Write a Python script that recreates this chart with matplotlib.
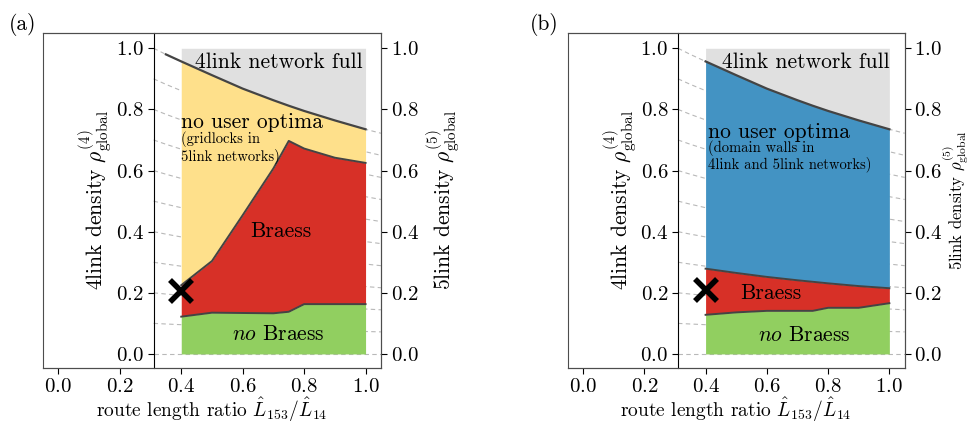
import numpy as np
import matplotlib
matplotlib.use("Agg")
import matplotlib.pyplot as plt

plt.rcParams['font.family'] = ['cmr10']
plt.rcParams['mathtext.fontset'] = 'cm'
plt.rcParams['axes.unicode_minus'] = False
plt.rcParams['axes.formatter.use_mathtext'] = True

# 4link network full boundary (also used for the 4link->5link guide lines)
x_full = [0.31, 0.35, 0.4, 0.5, 0.6, 0.7, 0.75, 0.8, 0.9, 1.0, 1.05]
rho_full = [1.0, 0.98, 0.957, 0.912, 0.868, 0.830, 0.812, 0.795, 0.764, 0.735, 0.722]

# common x grid of the phase regions
x_reg = [0.4, 0.5, 0.6, 0.7, 0.75, 0.8, 0.9, 1.0]
full_reg = [0.957, 0.912, 0.868, 0.830, 0.812, 0.795, 0.764, 0.735]

# panel (a)
braess_top_a = [0.225, 0.304, 0.454, 0.607, 0.697, 0.672, 0.642, 0.625]
nobraess_top_a = [0.122, 0.135, 0.134, 0.133, 0.138, 0.163, 0.163, 0.163]

# panel (b)
braess_top_b = [0.279, 0.265, 0.252, 0.241, 0.236, 0.231, 0.222, 0.215]
nobraess_top_b = [0.128, 0.136, 0.141, 0.141, 0.141, 0.151, 0.151, 0.166]

marker_a = (0.4, 0.205)
marker_b = (0.4, 0.209)

GRAY = '#e0e0e0'
YELLOW = '#fee08b'
RED = '#d73027'
GREEN = '#91cf60'
BLUE = '#4393c3'
LINE = '#444444'
FS = 15.5
TICK_FS = 15

fig = plt.figure(figsize=(9.71, 4.23), dpi=100)


def panel(rect, braess_top, nobraess_top, mid_color, full_start, marker):
    ax = fig.add_axes(rect)
    ax2 = ax.twinx()
    ax.set_xlim(-0.05, 1.05)
    ax.set_ylim(-0.046, 1.05)
    ax2.set_ylim(-0.046, 1.05)

    # guide lines 4link density -> 5link density
    xf = np.array(x_full)
    gf = np.array(rho_full)
    for k in range(11):
        ax.plot(xf, k / 10 * gf, ls=(0, (4, 3)), color='0.72', lw=0.8, zorder=1)

    xr = np.array(x_reg)
    ax.fill_between(xr, full_reg, 1.0, color=GRAY, lw=0, zorder=2)
    ax.fill_between(xr, braess_top, full_reg, color=mid_color, lw=0, zorder=2)
    ax.fill_between(xr, nobraess_top, braess_top, color=RED, lw=0, zorder=2)
    ax.fill_between(xr, 0, nobraess_top, color=GREEN, lw=0, zorder=2)

    sel = (xf >= full_start - 1e-9) & (xf <= 1.0 + 1e-9)
    ax.plot(xf[sel], gf[sel], color=LINE, lw=1.6, zorder=3)
    ax.plot(xr, braess_top, color=LINE, lw=1.4, zorder=3)
    ax.plot(xr, nobraess_top, color=LINE, lw=1.4, zorder=3)

    ax.plot(*marker, marker='x', ms=16, mew=4, color='k', zorder=6, clip_on=False)

    ax.spines['left'].set_position(('data', 0.31))
    ax.spines['left'].set_color('k')
    for s in ['top', 'bottom', 'right']:
        ax.spines[s].set_color('0.3')
    for s in ax2.spines.values():
        s.set_color('0.3')
    ax2.spines['left'].set_visible(True)

    ticks = [0.0, 0.2, 0.4, 0.6, 0.8, 1.0]
    ax.set_xticks(ticks)
    ax.set_yticks(ticks)
    ax2.set_yticks(ticks)
    ax.tick_params(labelsize=TICK_FS, length=4, pad=3)
    ax2.tick_params(labelsize=TICK_FS, length=4, pad=3)
    ax.set_xlabel(r'route length ratio $\hat{L}_{153}/\hat{L}_{14}$', fontsize=14, labelpad=0)
    return ax, ax2


# ---------- panel (a)
ax, ax2 = panel([0.0443, 0.130, 0.348, 0.792], braess_top_a, nobraess_top_a,
                YELLOW, 0.35, marker_a)
ax.text(0.155, 0.5, r'4link density $\rho^{(4)}_{\rm global}$', transform=ax.transAxes,
        rotation=90, ha='center', va='center', fontsize=FS)
ax.text(1.185, 0.5, r'5link density $\rho^{(5)}_{\rm global}$', transform=ax.transAxes,
        rotation=90, ha='center', va='center', fontsize=FS)
ax.text(0.99, 0.955, '4link network full', ha='right', va='center', fontsize=FS, zorder=5)
ax.text(0.40, 0.759, 'no user optima', ha='left', va='center', fontsize=FS, zorder=5)
ax.text(0.40, 0.675, '(gridlocks in\n5link networks)', ha='left', va='center',
        fontsize=10.5, linespacing=1.1, zorder=5)
ax.text(0.724, 0.402, 'Braess', ha='center', va='center', fontsize=FS, zorder=5)
ax.text(0.717, 0.065, r'$no$ Braess', ha='center', va='center', fontsize=FS, zorder=5)
fig.text(0.023, 0.943, '(a)', ha='center', va='center', fontsize=FS)

# ---------- panel (b)
ax, ax2 = panel([0.5847, 0.130, 0.347, 0.792], braess_top_b, nobraess_top_b,
                BLUE, 0.4, marker_b)
ax.text(0.155, 0.5, r'4link density $\rho^{(4)}_{\rm global}$', transform=ax.transAxes,
        rotation=90, ha='center', va='center', fontsize=FS)
ax.text(1.153, 0.5, r'5link density $\rho^{(5)}_{\rm global}$', transform=ax.transAxes,
        rotation=90, ha='center', va='center', fontsize=12)
ax.text(1.0, 0.955, '4link network full', ha='right', va='center', fontsize=FS, zorder=5)
ax.text(0.409, 0.726, 'no user optima', ha='left', va='center', fontsize=FS, zorder=5)
ax.text(0.409, 0.647, '(domain walls in\n4link and 5link networks)', ha='left', va='center',
        fontsize=10.5, linespacing=1.1, zorder=5)
ax.text(0.612, 0.20, 'Braess', ha='center', va='center', fontsize=FS, zorder=5)
ax.text(0.724, 0.062, r'$no$ Braess', ha='center', va='center', fontsize=FS, zorder=5)
fig.text(0.560, 0.941, '(b)', ha='center', va='center', fontsize=FS)

fig.savefig('out.png', dpi=100)
